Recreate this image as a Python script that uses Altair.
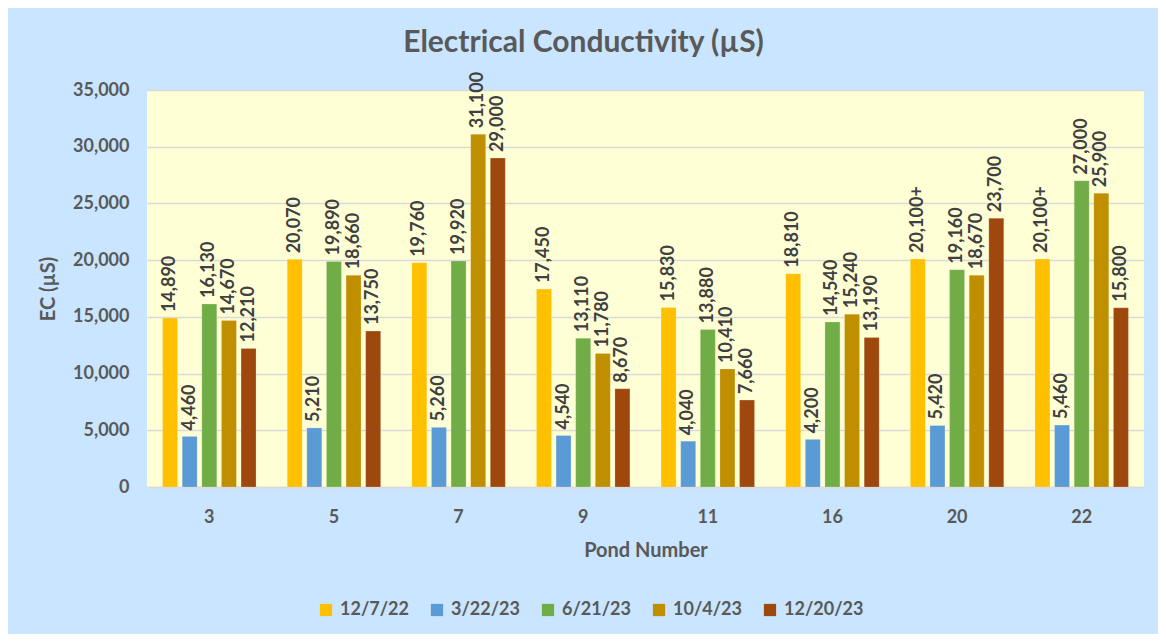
import altair as alt
import pandas as pd

ponds = ["3", "5", "7", "9", "11", "16", "20", "22"]
dates = ["12/7/22", "3/22/23", "6/21/23", "10/4/23", "12/20/23"]
colors = ["#FFC000", "#5B9BD5", "#70AD47", "#BF8F00", "#9E480E"]

values = {
    "12/7/22":  [14890, 20070, 19760, 17450, 15830, 18810, 20100, 20100],
    "3/22/23":  [4460, 5210, 5260, 4540, 4040, 4200, 5420, 5460],
    "6/21/23":  [16130, 19890, 19920, 13110, 13880, 14540, 19160, 27000],
    "10/4/23":  [14670, 18660, 31100, 11780, 10410, 15240, 18670, 25900],
    "12/20/23": [12210, 13750, 29000, 8670, 7660, 13190, 23700, 15800],
}
# values reported as lower bounds ("20,100+")
plus_flags = {
    "12/7/22": [False, False, False, False, False, False, True, True],
}

rows = []
for d in dates:
    for i, p in enumerate(ponds):
        v = values[d][i]
        lab = f"{v:,}"
        if plus_flags.get(d, [False] * 8)[i]:
            lab += "+"
        rows.append({"Pond": p, "Date": d, "EC": v, "Label": lab})
df = pd.DataFrame(rows)

FONT = "Lato"
GRAY = "#595959"

x = alt.X("Pond:N", sort=ponds, title="Pond Number",
          scale=alt.Scale(paddingInner=0.25, paddingOuter=0.125),
          axis=alt.Axis(labelAngle=0, labelFont=FONT, labelFontSize=18, labelFontWeight="bold",
                        labelColor=GRAY, labelPadding=21, ticks=False, domainColor="#D9D9D9",
                        domainWidth=1.5, titleFont=FONT, titleFontSize=20, titleFontWeight="bold",
                        titleColor=GRAY, titlePadding=14))
xoff = alt.XOffset("Date:N", sort=dates, scale=alt.Scale(paddingInner=0.236, paddingOuter=0))
y = alt.Y("EC:Q", title="EC (µS)",
          scale=alt.Scale(domain=[0, 35000], nice=False),
          axis=alt.Axis(values=list(range(0, 35001, 5000)), format=",.0f", labelFont=FONT,
                        labelFontSize=18, labelFontWeight="bold", labelColor=GRAY, labelPadding=18,
                        ticks=False, domain=False, gridColor="#D9D9D9", gridWidth=1.5,
                        titleFont=FONT, titleFontSize=20, titleFontWeight="bold",
                        titleColor=GRAY, titlePadding=14))
color = alt.Color("Date:N", sort=dates, scale=alt.Scale(domain=dates, range=colors),
                  legend=alt.Legend(title=None, orient="none", direction="horizontal",
                                    legendX=170, legendY=511, symbolType="square",
                                    symbolSize=150, symbolStrokeWidth=0, labelFont=FONT,
                                    labelFontSize=18, labelFontWeight="bold", labelColor=GRAY,
                                    columnPadding=19, labelOffset=5))

base = alt.Chart(df)
bars = base.mark_bar(stroke="white", strokeWidth=0.5, strokeOpacity=0.4).encode(
    x=x, xOffset=xoff, y=y, color=color)
text = base.mark_text(angle=270, align="left", baseline="middle", dx=6, font=FONT,
                      fontSize=18, fontWeight="bold", color="#404040").encode(
    x=alt.X("Pond:N", sort=ponds), xOffset=alt.XOffset("Date:N", sort=dates), y="EC:Q",
    text="Label:N")

chart = (bars + text).properties(
    width=997, height=397,
    background="#C9E5FF",
    padding={"left": 139, "top": 82, "right": 14, "bottom": 147},
    autosize=alt.AutoSizeParams(type="none"),
    title=alt.TitleParams("Electrical Conductivity (µS)", font=FONT, fontSize=30,
                          fontWeight="bold", color=GRAY, anchor="middle", dx=-62, offset=14),
).configure_view(fill="#FFFFD5", stroke=None)

chart.save("out.html", embed_options={"renderer": "svg", "actions": False})
